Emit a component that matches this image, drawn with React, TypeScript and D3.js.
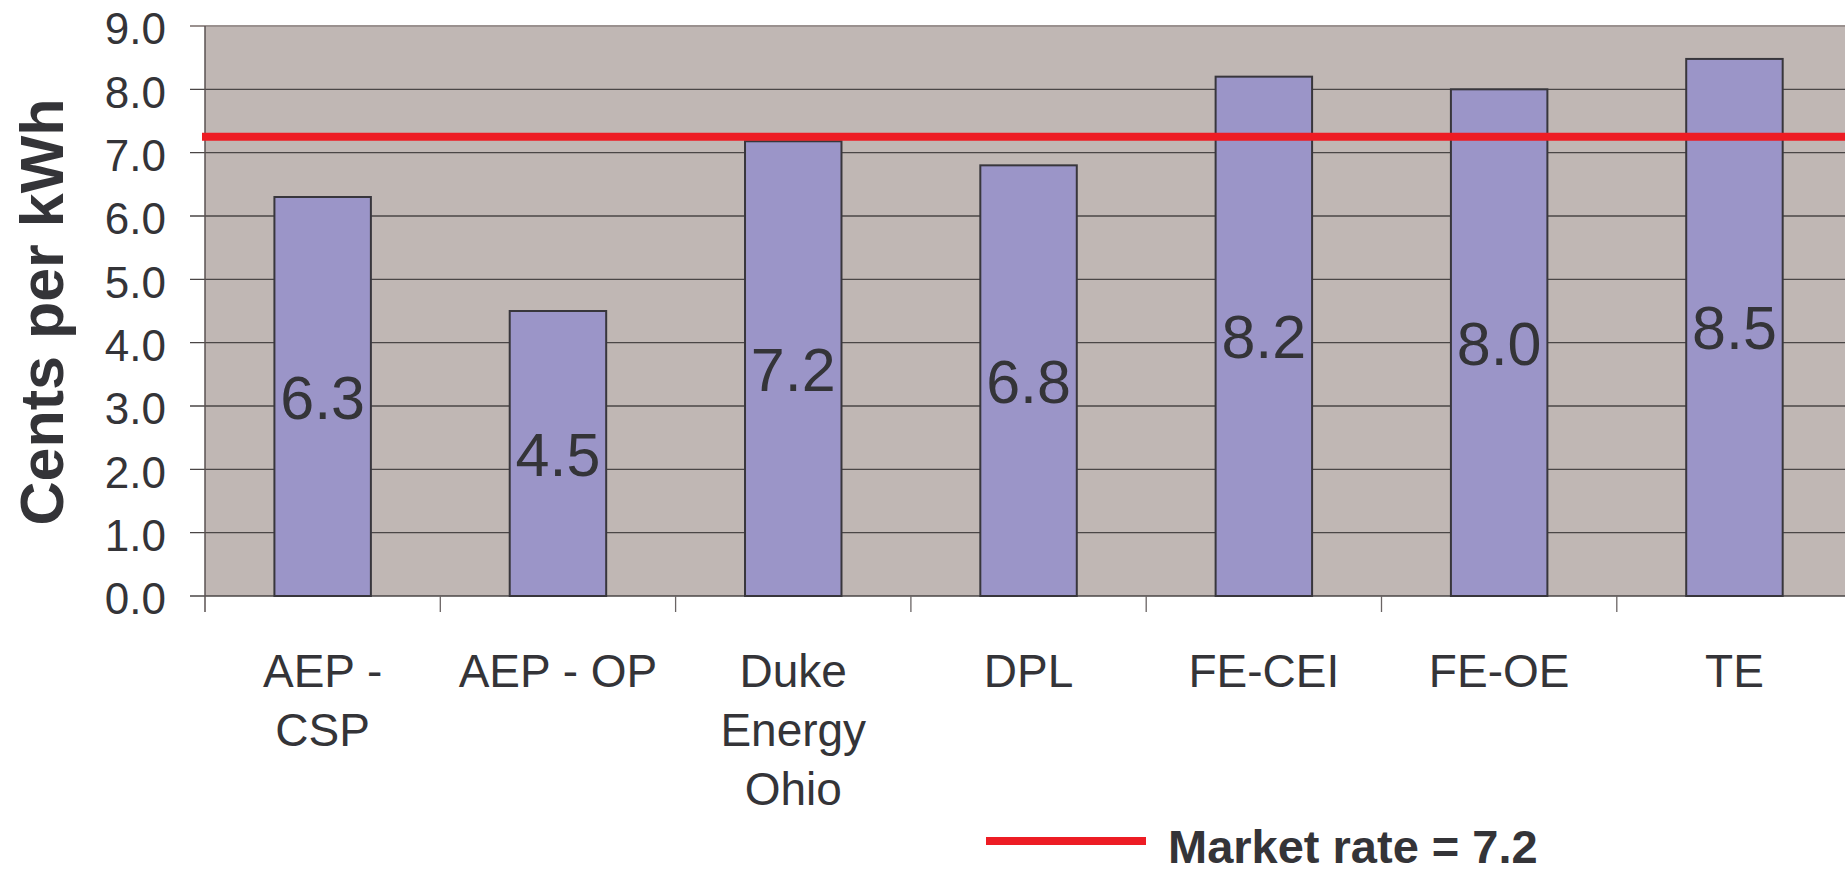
import React, { useRef, useEffect } from "react";
import { select, scaleBand, scaleLinear, range } from "d3";

const categories = ["AEP - CSP", "AEP - OP", "Duke Energy Ohio", "DPL", "FE-CEI", "FE-OE", "TE"];
const categoryLines = [["AEP -", "CSP"], ["AEP - OP"], ["Duke", "Energy", "Ohio"], ["DPL"], ["FE-CEI"], ["FE-OE"], ["TE"]];
const centsPerKwh = [6.3, 4.5, 7.18, 6.8, 8.2, 8.0, 8.48];
const yTicks = [0, 1, 2, 3, 4, 5, 6, 7, 8, 9];
const marketRate = 7.25;
const marketLabel = "Market rate = 7.2";
const yTitle = "Cents per kWh";

const W = 1845;
const H = 869;
const FONT = "'Liberation Sans', Arial, Helvetica, sans-serif";
const TEXT = "#343438";

function App() {
  const svgRef = useRef(null);

  useEffect(() => {
    const svg = select(svgRef.current);
    svg.selectAll("*").remove();

    // scales
    const left = 205;
    const step = 235.3;
    const xScale = scaleBand()
      .domain(categories)
      .range([left, left + step * categories.length])
      .padding(0);
    const yScale = scaleLinear().domain([0, 9]).range([596, 26]);
    const plotRight = W + 20;
    const barW = xScale.bandwidth() * 0.41;

    // plot background
    svg
      .append("rect")
      .attr("x", left)
      .attr("y", yScale(9))
      .attr("width", plotRight - left)
      .attr("height", yScale(0) - yScale(9))
      .attr("fill", "#c0b7b4");

    // gridlines + y ticks
    svg
      .selectAll(".grid")
      .data(yTicks)
      .join("line")
      .attr("class", "grid")
      .attr("x1", 190)
      .attr("x2", plotRight)
      .attr("y1", d => yScale(d))
      .attr("y2", d => yScale(d))
      .attr("stroke", d => (d === 9 ? "#9a918f" : "#4a4646"))
      .attr("stroke-width", d => (d === 9 ? 2 : 1.3));

    svg
      .selectAll(".ylab")
      .data(yTicks)
      .join("text")
      .attr("class", "ylab")
      .attr("x", 166)
      .attr("y", d => yScale(d))
      .attr("dy", "0.42em")
      .attr("text-anchor", "end")
      .attr("font-family", FONT)
      .attr("font-size", 44)
      .attr("fill", TEXT)
      .text(d => d.toFixed(1));

    // left axis line
    svg
      .append("line")
      .attr("x1", left)
      .attr("x2", left)
      .attr("y1", yScale(9))
      .attr("y2", yScale(0) + 16)
      .attr("stroke", "#5a5252")
      .attr("stroke-width", 1.5);

    // x ticks at category boundaries
    svg
      .selectAll(".xtick")
      .data(range(1, categories.length + 1))
      .join("line")
      .attr("class", "xtick")
      .attr("x1", i => left + i * xScale.step())
      .attr("x2", i => left + i * xScale.step())
      .attr("y1", yScale(0))
      .attr("y2", yScale(0) + 16)
      .attr("stroke", "#6a6464")
      .attr("stroke-width", 1.3);

    // bars
    svg
      .selectAll(".bar")
      .data(centsPerKwh)
      .join("rect")
      .attr("class", "bar")
      .attr("x", (v, i) => xScale(categories[i]) + (xScale.bandwidth() - barW) / 2)
      .attr("y", v => yScale(v))
      .attr("width", barW)
      .attr("height", v => yScale(0) - yScale(v))
      .attr("fill", "#9b95c8")
      .attr("stroke", "#38363c")
      .attr("stroke-width", 2);

    // value labels in bar middles
    svg
      .selectAll(".val")
      .data(centsPerKwh)
      .join("text")
      .attr("class", "val")
      .attr("x", (v, i) => xScale(categories[i]) + xScale.bandwidth() / 2)
      .attr("y", v => (yScale(v) + yScale(0)) / 2 + 22)
      .attr("text-anchor", "middle")
      .attr("font-family", FONT)
      .attr("font-size", 61)
      .attr("fill", TEXT)
      .text(v => v.toFixed(1));

    // market rate line
    svg
      .append("line")
      .attr("x1", left - 3)
      .attr("x2", plotRight)
      .attr("y1", yScale(marketRate))
      .attr("y2", yScale(marketRate))
      .attr("stroke", "#ed1c24")
      .attr("stroke-width", 8);

    // category labels
    const xl = svg
      .selectAll(".xlab")
      .data(categoryLines)
      .join("text")
      .attr("class", "xlab")
      .attr("text-anchor", "middle")
      .attr("font-family", FONT)
      .attr("font-size", 46)
      .attr("fill", TEXT);
    xl.each(function (lines, i) {
      select(this)
        .selectAll("tspan")
        .data(lines)
        .join("tspan")
        .attr("x", xScale(categories[i]) + xScale.bandwidth() / 2)
        .attr("y", (d, j) => 687 + j * 59)
        .text(d => d);
    });

    // y title
    svg
      .append("text")
      .attr("transform", "translate(63,312) rotate(-90)")
      .attr("text-anchor", "middle")
      .attr("font-family", FONT)
      .attr("font-weight", "bold")
      .attr("font-size", 61)
      .attr("fill", TEXT)
      .text(yTitle);

    // legend
    svg
      .append("line")
      .attr("x1", 986)
      .attr("x2", 1146)
      .attr("y1", 841)
      .attr("y2", 841)
      .attr("stroke", "#ed1c24")
      .attr("stroke-width", 8);
    svg
      .append("text")
      .attr("x", 1168)
      .attr("y", 863)
      .attr("font-family", FONT)
      .attr("font-weight", "bold")
      .attr("font-size", 47)
      .attr("fill", TEXT)
      .text(marketLabel);
  }, []);

  return (
    <svg
      ref={svgRef}
      width={W}
      height={H}
      style={{ position: "absolute", left: 0, top: 0, display: "block", background: "#fff" }}
    />
  );
}

export default App;
